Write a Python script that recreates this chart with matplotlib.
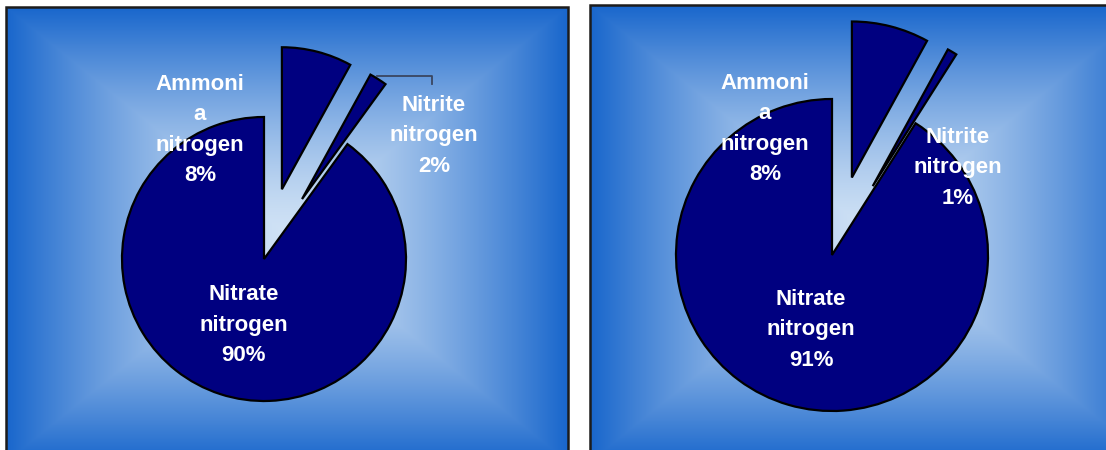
import numpy as np
import matplotlib
matplotlib.use("Agg")
import matplotlib.pyplot as plt
from matplotlib.patches import Rectangle

W, H = 1106, 450

# Slice names (as wrapped on the chart) and percentage shares, clockwise from 12 o'clock
slice_labels = ["Ammoni\na\nnitrogen", "Nitrite\nnitrogen", "Nitrate\nnitrogen"]
values_left = [8, 2, 90]
values_right = [8, 1, 91]

NAVY = "#000080"
EDGE_BLUE = np.array([24, 102, 204]) / 255
CENTER_BLUE = np.array([208, 226, 245]) / 255
FONT = ["Liberation Sans", "DejaVu Sans"]

fig = plt.figure(figsize=(W / 100, H / 100), dpi=100, facecolor="white")
ax = fig.add_axes([0, 0, 1, 1])


def Y(y):
    """Convert a top-down pixel row into the axes' bottom-up coordinate."""
    return H - y


def panel_background(x0, y0, x1, y1):
    xs = np.arange(x0, x1) + 0.5
    ys = np.arange(y0, y1) + 0.5
    cx, cy = (x0 + x1) / 2, (y0 + y1) / 2
    hx, hy = (x1 - x0) / 2, (y1 - y0) / 2
    gx, gy = np.meshgrid(xs, ys)
    t = np.maximum(np.abs(gx - cx) / hx, np.abs(gy - cy) / hy)
    t = np.clip(t, 0, 1) ** 1.4
    img = CENTER_BLUE * (1 - t[..., None]) + EDGE_BLUE * t[..., None]
    ax.imshow(img, extent=(x0, x1, Y(y1), Y(y0)), origin="upper",
              interpolation="bilinear", zorder=0)
    ax.add_patch(Rectangle((x0, Y(y1)), x1 - x0, y1 - y0, fill=False,
                           ec="#1c1c1c", lw=1.8, zorder=4))


def draw_pie(values, cx, cy, r, explode_px, label_pos):
    ax.pie(values, explode=explode_px, center=(cx, Y(cy)), radius=r,
           startangle=90, counterclock=False, colors=[NAVY] * len(values),
           wedgeprops=dict(edgecolor="black", linewidth=1.6), frame=False)
    for name, val, (lx, ly) in zip(slice_labels, values, label_pos):
        ax.text(lx, Y(ly), f"{name}\n{val}%", ha="center", va="center",
                color="white", fontsize=16, fontweight="bold",
                family=FONT, linespacing=1.58, zorder=5)


# Left panel
panel_background(6, 7, 568, 462)
draw_pie(values_left, 264, 259, 142, [72, 71, 0],
         [(200, 130), (434, 136), (244, 325)])
ax.plot([377, 432, 432], [Y(76), Y(76), Y(84)], color="#3a4660", lw=1.3, zorder=3)

# Right panel
panel_background(590, 5, 1152, 462)
draw_pie(values_right, 832, 255, 156, [80, 80, 0],
         [(765, 129), (958, 168), (811, 330)])

ax.set_xlim(0, W)
ax.set_ylim(0, H)
ax.set_aspect("auto")
ax.axis("off")

fig.savefig("out.png", dpi=100, facecolor="white")
